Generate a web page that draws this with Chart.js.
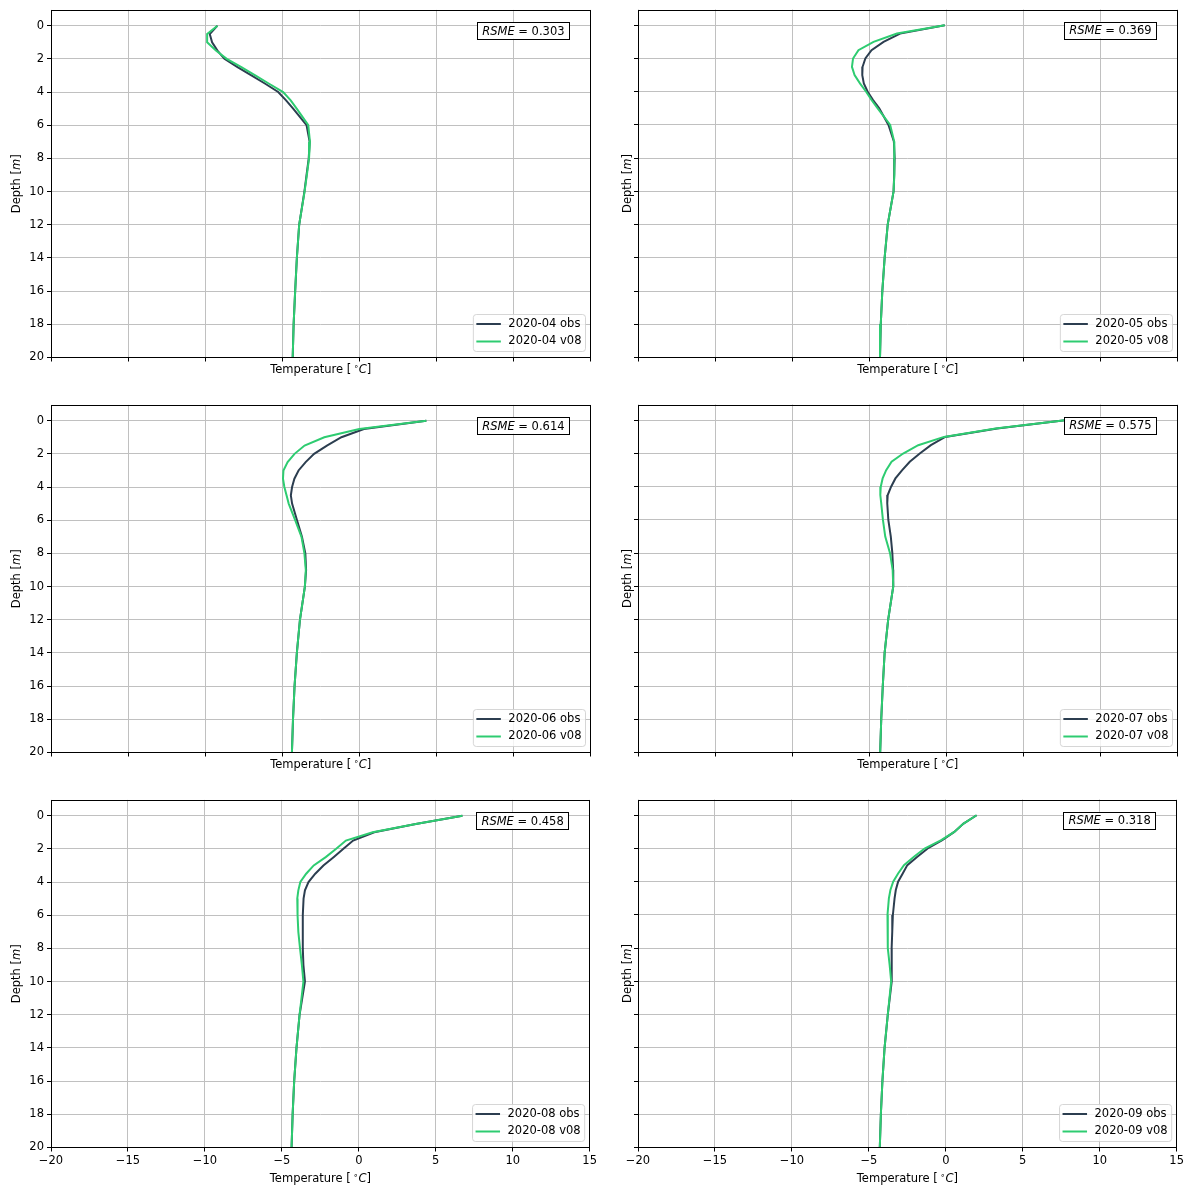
<!DOCTYPE html>
<html>
<head>
<meta charset="utf-8">
<script src="https://cdn.jsdelivr.net/npm/chart.js@4.4.0/dist/chart.umd.min.js"></script>
<style>
  body { margin: 0; background: #fff; }
  #fig { position: relative; width: 1189px; height: 1186px; background: #fff; }
  #fig canvas { position: absolute; }
</style>
</head>
<body>
<div id="fig">
  <canvas id="p0" width="600" height="396" style="left:0px;top:0px"></canvas>
  <canvas id="p1" width="600" height="396" style="left:587px;top:0px"></canvas>
  <canvas id="p2" width="600" height="396" style="left:0px;top:395px"></canvas>
  <canvas id="p3" width="600" height="396" style="left:587px;top:395px"></canvas>
  <canvas id="p4" width="600" height="396" style="left:0px;top:790px"></canvas>
  <canvas id="p5" width="600" height="396" style="left:587px;top:790px"></canvas>
</div>
<script>
// depth levels (m) shared by every profile
const depths = [0, 0.5, 1, 1.5, 2, 2.5, 3, 3.5, 4, 4.5, 5, 6, 7, 8, 9, 10, 12, 14, 16, 18, 20];

// temperature profiles (deg C)
const obs04 = [-9.2, -9.7, -9.55, -9.2, -8.75, -7.9, -7.0, -6.1, -5.26, -4.75, -4.29, -3.42, -3.22, -3.28, -3.42, -3.56, -3.9, -4.05, -4.16, -4.26, -4.32];
const v0804 = [-9.2, -9.87, -9.87, -9.3, -8.6, -7.65, -6.75, -5.85, -4.94, -4.45, -4.06, -3.31, -3.2, -3.26, -3.4, -3.55, -3.9, -4.05, -4.16, -4.26, -4.32];

const obs05 = [-0.1, -3.0, -4.07, -4.85, -5.25, -5.43, -5.45, -5.35, -5.1, -4.75, -4.35, -3.75, -3.4, -3.35, -3.38, -3.42, -3.8, -4.0, -4.15, -4.25, -4.3];
const v0805 = [-0.1, -3.2, -4.72, -5.7, -6.05, -6.12, -5.95, -5.6, -5.2, -4.85, -4.45, -3.64, -3.38, -3.36, -3.38, -3.42, -3.8, -4.0, -4.15, -4.25, -4.3];

const obs06 = [4.35, 0.3, -1.16, -2.1, -2.93, -3.48, -3.94, -4.21, -4.36, -4.44, -4.36, -4.04, -3.72, -3.5, -3.45, -3.53, -3.85, -4.05, -4.2, -4.3, -4.37];
const v0806 = [4.35, 0.0, -2.27, -3.55, -4.2, -4.65, -4.92, -4.95, -4.86, -4.72, -4.58, -4.16, -3.75, -3.56, -3.47, -3.53, -3.85, -4.05, -4.2, -4.3, -4.37];

const obs07 = [7.7, 3.3, -0.07, -1.0, -1.72, -2.37, -2.86, -3.3, -3.58, -3.8, -3.83, -3.76, -3.6, -3.5, -3.45, -3.44, -3.77, -4.0, -4.12, -4.22, -4.29];
const v0807 = [7.7, 3.2, -0.15, -1.82, -2.8, -3.55, -3.9, -4.13, -4.25, -4.28, -4.22, -4.11, -3.96, -3.65, -3.48, -3.44, -3.77, -4.0, -4.12, -4.22, -4.29];

const obs08 = [6.73, 3.7, 1.0, -0.37, -1.0, -1.64, -2.3, -2.83, -3.27, -3.5, -3.59, -3.64, -3.64, -3.64, -3.6, -3.5, -3.85, -4.05, -4.2, -4.3, -4.37];
const v0808 = [6.73, 3.7, 0.9, -0.84, -1.47, -2.15, -2.93, -3.42, -3.8, -3.93, -4.0, -3.98, -3.93, -3.82, -3.7, -3.6, -3.85, -4.05, -4.2, -4.3, -4.37];

const obs09 = [2.0, 1.15, 0.55, -0.23, -1.18, -1.85, -2.5, -2.8, -3.1, -3.25, -3.33, -3.44, -3.48, -3.52, -3.53, -3.5, -3.77, -3.98, -4.12, -4.22, -4.29];
const v0809 = [2.0, 1.15, 0.55, -0.3, -1.38, -2.07, -2.72, -3.1, -3.42, -3.6, -3.7, -3.79, -3.78, -3.76, -3.65, -3.55, -3.77, -3.98, -4.12, -4.22, -4.29];

const months = ['2020-04', '2020-05', '2020-06', '2020-07', '2020-08', '2020-09'];
const rsme = ['0.303', '0.369', '0.614', '0.575', '0.458', '0.318'];
const obsSeries = [obs04, obs05, obs06, obs07, obs08, obs09];
const modSeries = [v0804, v0805, v0806, v0807, v0808, v0809];

const xTicks = [-20, -15, -10, -5, 0, 5, 10, 15];
const yTicks = [0, 2, 4, 6, 8, 10, 12, 14, 16, 18, 20];

const OBS_COLOR = '#2c3e50';
const MOD_COLOR = '#2ecc71';
const GRID_COLOR = '#c0c0c0';
const FONT = 'DejaVu Sans';
const FS = 11.5;

function fmt(v) {
    return v < 0 ? '\u2212' + Math.abs(v) : String(v);
}

// draw a row of text pieces with different fonts
function drawRuns(ctx, runs, x, y, align) {
    let total = 0;
    runs.forEach(r => { ctx.font = r.font; r.w = ctx.measureText(r.text).width; total += r.w; });
    let cx = align === 'center' ? x - total / 2 : (align === 'right' ? x - total : x);
    runs.forEach(r => {
        ctx.font = r.font;
        ctx.fillText(r.text, cx, y + (r.dy || 0));
        cx += r.w;
    });
    return total;
}

const regular = `${FS}px "${FONT}"`;
const italic = `italic ${FS}px "${FONT}"`;
const small = `${FS * 0.7}px "${FONT}"`;

const decorPlugin = {
    id: 'decor',
    afterDraw(chart) {
        const ctx = chart.ctx;
        const a = chart.chartArea;
        const o = chart.options.plugins.decor;
        ctx.save();
        ctx.fillStyle = '#000';
        ctx.textBaseline = 'alphabetic';

        // axes box
        ctx.strokeStyle = '#000';
        ctx.lineWidth = 1;
        ctx.strokeRect(Math.round(a.left) + 0.5, Math.round(a.top) + 0.5,
            Math.round(a.right - a.left) - 1, Math.round(a.bottom - a.top) - 1);

        // x axis title
        const tx = (a.left + a.right) / 2;
        const ty = a.bottom + (o.xLabels ? 34.5 : 15);
        drawRuns(ctx, [
            { text: 'Temperature [', font: regular },
            { text: ' \u2218', font: small, dy: -4 },
            { text: 'C', font: italic },
            { text: ']', font: regular }
        ], tx, ty, 'center');

        // y axis title
        ctx.save();
        ctx.translate(a.left - (o.yLabels ? 31 : 7), (a.top + a.bottom) / 2);
        ctx.rotate(-Math.PI / 2);
        drawRuns(ctx, [
            { text: 'Depth [', font: regular },
            { text: 'm', font: italic },
            { text: ']', font: regular }
        ], 0, 0, 'center');
        ctx.restore();

        // RSME box
        ctx.font = italic;
        const w1 = ctx.measureText('RSME').width;
        ctx.font = regular;
        const w2 = ctx.measureText(' = ' + o.rsme).width;
        const textRight = a.left + 0.95 * (a.right - a.left);
        const bx = textRight - w1 - w2 - 4;
        const by = a.top + 12.2;
        const bw = w1 + w2 + 10;
        const bh = 16.7;
        ctx.fillStyle = '#fff';
        ctx.fillRect(bx, by, bw, bh);
        ctx.strokeStyle = '#000';
        ctx.strokeRect(Math.round(bx) + 0.5, Math.round(by) + 0.5, Math.round(bw), Math.round(bh));
        ctx.fillStyle = '#000';
        drawRuns(ctx, [
            { text: 'RSME', font: italic },
            { text: ' = ' + o.rsme, font: regular }
        ], textRight + 1, by + 12.5, 'right');

        // legend
        const labels = [o.month + ' obs', o.month + ' v08'];
        const colors = [OBS_COLOR, MOD_COLOR];
        ctx.font = regular;
        const lw = Math.max(...labels.map(l => ctx.measureText(l).width));
        const boxW = lw + 39;
        const boxH = 37;
        const lx = a.right - 5.5 - boxW;
        const ly = a.bottom - 6.5 - boxH;
        ctx.beginPath();
        ctx.roundRect(lx + 0.5, ly + 0.5, boxW, boxH, 3);
        ctx.fillStyle = 'rgba(255,255,255,0.8)';
        ctx.fill();
        ctx.strokeStyle = 'rgba(204,204,204,0.8)';
        ctx.stroke();
        labels.forEach((l, i) => {
            const yy = ly + 10 + i * 17.5;
            ctx.strokeStyle = colors[i];
            ctx.lineWidth = 2;
            ctx.beginPath();
            ctx.moveTo(lx + 3.5, yy);
            ctx.lineTo(lx + 28, yy);
            ctx.stroke();
            ctx.fillStyle = '#000';
            ctx.font = regular;
            ctx.textBaseline = 'middle';
            ctx.fillText(l, lx + 35.5, yy);
        });
        ctx.restore();
    }
};

function makePanel(i) {
    const xLabels = i >= 4;
    const yLabels = i % 2 === 0;
    const obsPts = depths.map((d, k) => ({ x: obsSeries[i][k], y: d }));
    const modPts = depths.map((d, k) => ({ x: modSeries[i][k], y: d }));

    new Chart(document.getElementById('p' + i), {
        type: 'scatter',
        data: {
            datasets: [
                { label: months[i] + ' obs', data: obsPts, showLine: true, borderColor: OBS_COLOR, borderWidth: 2, pointRadius: 0, tension: 0, order: 2 },
                { label: months[i] + ' v08', data: modPts, showLine: true, borderColor: MOD_COLOR, borderWidth: 2, pointRadius: 0, tension: 0, order: 1 }
            ]
        },
        options: {
            responsive: false,
            animation: false,
            layout: { padding: { top: 9.5, right: 9.5, left: 0, bottom: 0 } },
            plugins: {
                legend: { display: false },
                tooltip: { enabled: false },
                decor: { month: months[i], rsme: rsme[i], xLabels: xLabels, yLabels: yLabels }
            },
            scales: {
                x: {
                    type: 'linear',
                    min: -20,
                    max: 15,
                    afterBuildTicks: s => { s.ticks = xTicks.map(v => ({ value: v })); },
                    afterFit: s => { s.height = 38.5; },
                    border: { display: false },
                    grid: { color: GRID_COLOR, lineWidth: 1, tickColor: '#000', tickLength: 4, tickWidth: 1 },
                    ticks: { display: xLabels, color: '#000', padding: 3, maxRotation: 0, autoSkip: false, font: { family: FONT, size: FS }, callback: v => fmt(v) }
                },
                y: {
                    type: 'linear',
                    reverse: true,
                    min: -0.95,
                    max: 20,
                    afterBuildTicks: s => { s.ticks = yTicks.map(v => ({ value: v })); },
                    afterFit: s => { s.width = 51; },
                    border: { display: false },
                    grid: { color: GRID_COLOR, lineWidth: 1, tickColor: '#000', tickLength: 4, tickWidth: 1 },
                    ticks: { display: yLabels, color: '#000', padding: 3, autoSkip: false, font: { family: FONT, size: FS }, callback: v => fmt(v) }
                }
            }
        },
        plugins: [decorPlugin]
    });
}

for (let i = 0; i < 6; i++) makePanel(i);
</script>
</body>
</html>
